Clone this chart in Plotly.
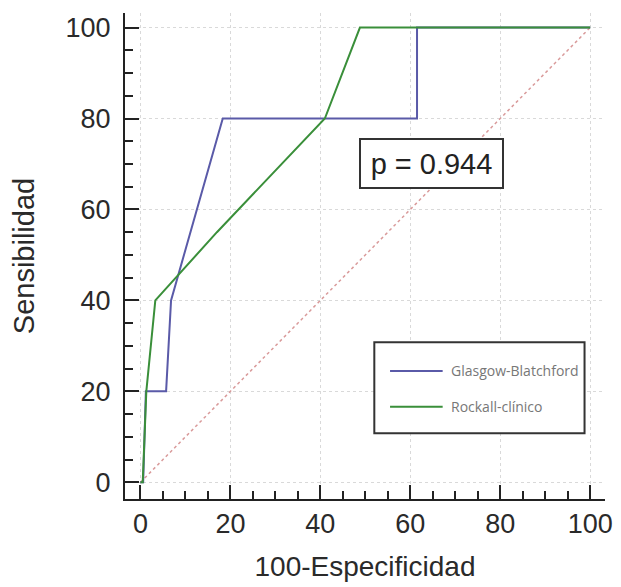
import plotly.graph_objects as go

# ROC data (100-Especificidad, Sensibilidad)
gb_x = [0, 0.6, 1.2, 5.7, 6.8, 18.3, 61.5, 61.5, 100]
gb_y = [0, 0, 20, 20, 40, 80, 80, 100, 100]
rc_x = [0, 0.5, 1.3, 3.3, 17.0, 30.0, 39.5, 41.0, 48.8, 100]
rc_y = [0, 0, 20, 40, 55.0, 68.5, 78.5, 80, 100, 100]
diag_x = [0, 100]
diag_y = [0, 100]
series_names = ["Glasgow-Blatchford", "Rockall-clínico"]
series_colors = ["#5a5aa8", "#3a8f3a"]
tick_vals = [0, 20, 40, 60, 80, 100]
p_text = "p = 0.944"

fig = go.Figure()
fig.add_trace(go.Scatter(x=diag_x, y=diag_y, mode="lines",
                         line=dict(color="#d99a9a", width=1.5, dash="dot"),
                         showlegend=False, hoverinfo="skip"))
fig.add_trace(go.Scatter(x=gb_x, y=gb_y, mode="lines", name=series_names[0],
                         line=dict(color=series_colors[0], width=2)))
fig.add_trace(go.Scatter(x=rc_x, y=rc_y, mode="lines", name=series_names[1],
                         line=dict(color=series_colors[1], width=2)))

axis_common = dict(
    tickvals=tick_vals,
    ticks="inside", ticklen=14, tickwidth=2, tickcolor="#222",
    showline=True, linecolor="#222", linewidth=2,
    showgrid=True, gridcolor="#d9d9d9", griddash="dot", gridwidth=1,
    zeroline=False,
    tickfont=dict(family="Liberation Sans, Arial", size=27, color="#2a2a2a"),
    minor=dict(dtick=5, ticks="inside", ticklen=8, tickwidth=2,
               tickcolor="#222", showgrid=False),
)

fig.update_xaxes(range=[-3.44, 103.3], **axis_common,
                 title=dict(text="100-Especificidad", standoff=18,
                            font=dict(family="Liberation Sans, Arial", size=28, color="#2a2a2a")))
fig.update_yaxes(range=[-3.67, 103.2], **axis_common, ticklabelstandoff=7,
                 title=dict(text="Sensibilidad", standoff=22,
                            font=dict(family="Liberation Sans, Arial", size=29, color="#2a2a2a")))

# p-value annotation
fig.add_annotation(x=64.8, y=70, xref="x", yref="y", text=p_text, showarrow=False,
                   font=dict(family="Liberation Sans, Arial", size=29, color="#222"),
                   bordercolor="#333", borderwidth=2, bgcolor="white",
                   width=139, height=45, borderpad=1)

# manual legend
fig.add_shape(type="rect", x0=52, x1=98.75, y0=10.8, y1=30.8, xref="x", yref="y",
              line=dict(color="#333", width=2), fillcolor="white", layer="above")
legend_y = [24.5, 16.6]
for name, col, ly in zip(series_names, series_colors, legend_y):
    fig.add_shape(type="line", x0=55.5, x1=67.2, y0=ly, y1=ly, xref="x", yref="y",
                  line=dict(color=col, width=2), layer="above")
    fig.add_annotation(x=68.6, y=ly, xref="x", yref="y", text=name, showarrow=False,
                       xanchor="left", yanchor="middle",
                       font=dict(family="Open Sans, DejaVu Sans", size=14, color="#777"))

fig.update_layout(
    width=621, height=587,
    margin=dict(l=125, r=9, t=13, b=88),
    plot_bgcolor="white", paper_bgcolor="white",
    showlegend=False,
)

fig.write_html("out.html")
